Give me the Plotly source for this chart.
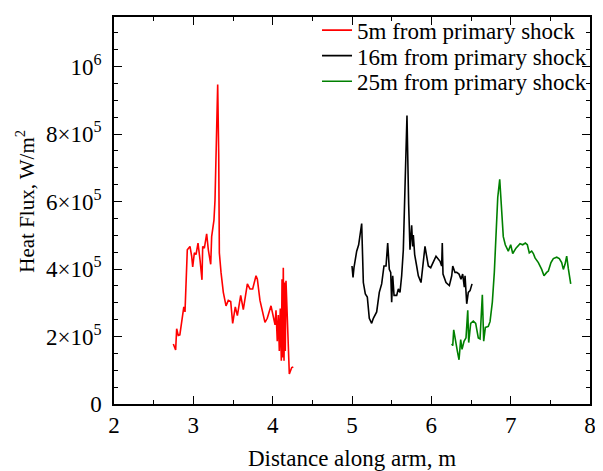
import plotly.graph_objects as go

# 5m from primary shock (red)
x_5m = [2.748, 2.777, 2.79, 2.81, 2.83, 2.857, 2.88, 2.895, 2.924, 2.958, 2.979, 2.992, 3.013, 3.034,
        3.059, 3.084, 3.097, 3.109, 3.118, 3.139, 3.168, 3.189, 3.219, 3.231, 3.26, 3.273, 3.294, 3.307,
        3.32, 3.328, 3.349, 3.378, 3.412, 3.441, 3.471, 3.496, 3.529, 3.555, 3.597, 3.63, 3.681, 3.714,
        3.748, 3.79, 3.807, 3.84, 3.903, 3.932, 3.979, 4.008, 4.03, 4.042, 4.058, 4.071, 4.084, 4.096,
        4.109, 4.118, 4.126, 4.134, 4.143, 4.151, 4.159, 4.168, 4.21, 4.24, 4.26]
y_5m = [1.78e5, 1.60e5, 2.23e5, 2.03e5, 2.05e5, 2.52e5, 2.88e5, 2.73e5, 4.57e5, 4.67e5, 4.38e5, 4.06e5,
        4.48e5, 4.43e5, 4.77e5, 4.28e5, 4.04e5, 3.68e5, 4.67e5, 4.62e5, 5.04e5, 4.57e5, 4.14e5, 4.96e5,
        5.45e5, 6.03e5, 8.16e5, 9.47e5, 7.38e5, 4.48e5, 3.90e5, 3.31e5, 2.91e5, 3.07e5, 3.04e5, 2.39e5,
        2.88e5, 2.62e5, 3.22e5, 2.80e5, 3.56e5, 3.41e5, 3.41e5, 3.80e5, 3.70e5, 3.07e5, 2.42e5, 2.54e5,
        2.91e5, 2.64e5, 2.35e5, 2.78e5, 1.86e5, 2.64e5, 1.57e5, 2.83e5, 1.28e5, 3.70e5, 1.38e5, 4.04e5,
        1.28e5, 3.60e5, 1.57e5, 3.65e5, 0.89e5, 1.08e5, 1.10e5]

# 16m from primary shock (black)
x_16m = [5.0, 5.013, 5.025, 5.059, 5.084, 5.122, 5.143, 5.168, 5.193, 5.218, 5.248, 5.269, 5.311, 5.344,
         5.374, 5.403, 5.429, 5.45, 5.47, 5.488, 5.5, 5.513, 5.53, 5.563, 5.584, 5.605, 5.626, 5.647,
         5.668, 5.693, 5.714, 5.731, 5.752, 5.765, 5.773, 5.79, 5.815, 5.836, 5.87, 5.899, 5.92, 5.941,
         5.962, 5.992, 6.025, 6.059, 6.11, 6.13, 6.138, 6.147, 6.185, 6.227, 6.257, 6.27, 6.298, 6.32,
         6.349, 6.374, 6.395, 6.416, 6.425, 6.446, 6.466, 6.488, 6.513]
y_16m = [4.09e5, 3.75e5, 4.04e5, 4.53e5, 4.72e5, 5.35e5, 3.60e5, 3.26e5, 3.17e5, 2.54e5, 2.39e5, 2.54e5,
         2.73e5, 3.31e5, 3.56e5, 4.09e5, 4.09e5, 4.77e5, 3.99e5, 3.90e5, 3.02e5, 3.80e5, 3.22e5, 3.22e5,
         3.41e5, 3.31e5, 3.80e5, 4.57e5, 6.41e5, 8.55e5, 5.93e5, 4.57e5, 5.30e5, 4.67e5, 5.01e5, 4.43e5,
         4.09e5, 3.80e5, 3.60e5, 4.19e5, 4.67e5, 4.38e5, 4.09e5, 4.04e5, 4.23e5, 4.38e5, 4.23e5, 4.09e5,
         4.77e5, 3.85e5, 3.60e5, 3.51e5, 3.80e5, 4.09e5, 3.90e5, 3.90e5, 3.85e5, 3.70e5, 3.85e5, 3.46e5,
         3.80e5, 2.97e5, 3.31e5, 3.36e5, 3.56e5]

# 25m from primary shock (green)
x_25m = [6.257, 6.27, 6.282, 6.303, 6.328, 6.349, 6.37, 6.387, 6.412, 6.437, 6.459, 6.471, 6.496, 6.529,
         6.559, 6.592, 6.614, 6.643, 6.66, 6.681, 6.718, 6.74, 6.769, 6.794, 6.815, 6.837, 6.862, 6.882,
         6.907, 6.932, 6.97, 7.0, 7.026, 7.067, 7.118, 7.152, 7.185, 7.21, 7.235, 7.265, 7.286, 7.307,
         7.349, 7.391, 7.42, 7.454, 7.475, 7.508, 7.538, 7.58, 7.613, 7.643, 7.664, 7.685, 7.706, 7.727,
         7.757]
y_25m = [1.78e5, 1.73e5, 2.20e5, 1.96e5, 1.57e5, 1.31e5, 1.91e5, 1.62e5, 1.86e5, 1.96e5, 2.78e5, 1.82e5,
         2.39e5, 2.46e5, 2.39e5, 1.96e5, 1.93e5, 3.24e5, 1.86e5, 2.27e5, 2.30e5, 2.44e5, 3.02e5, 3.90e5,
         5.06e5, 6.12e5, 6.66e5, 6.03e5, 4.96e5, 4.72e5, 4.53e5, 4.72e5, 4.46e5, 4.62e5, 4.75e5, 4.72e5,
         4.77e5, 4.72e5, 4.48e5, 4.53e5, 4.46e5, 4.33e5, 4.19e5, 3.99e5, 3.80e5, 3.90e5, 3.94e5, 4.19e5,
         4.31e5, 4.35e5, 4.31e5, 4.19e5, 3.99e5, 4.14e5, 4.38e5, 4.01e5, 3.56e5]

series_names = ["5m from primary shock", "16m from primary shock", "25m from primary shock"]
series_colors = ["#ff0000", "#000000", "#008000"]

y_tick_vals = [0, 2e5, 4e5, 6e5, 8e5, 1e6]
y_tick_text = ["0", "2×10<sup>5</sup>", "4×10<sup>5</sup>", "6×10<sup>5</sup>",
               "8×10<sup>5</sup>", "10<sup>6</sup>"]
x_tick_vals = [2, 3, 4, 5, 6, 7, 8]

FONT = "Liberation Serif, Times New Roman, serif"
FS = 23

fig = go.Figure()
legend_ids = ["legend", "legend2", "legend3"]
legend_y = [0.966, 0.900, 0.834]
for xs, ys, name, col, lg in zip([x_5m, x_16m, x_25m], [y_5m, y_16m, y_25m], series_names, series_colors, legend_ids):
    fig.add_trace(go.Scatter(x=xs, y=ys, mode="lines", name=name, legend=lg,
                             line=dict(color=col, width=1.6)))

axis_common = dict(
    showline=True, linecolor="black", linewidth=1.5, mirror="allticks",
    ticks="inside", ticklen=8, tickwidth=1.2, tickcolor="black",
    showgrid=False, zeroline=False,
    tickfont=dict(family=FONT, size=FS, color="black"),
)

fig.update_xaxes(range=[2, 8], tickvals=x_tick_vals,
                 minor=dict(dtick=0.5, ticks="inside", ticklen=4, tickcolor="black", tickwidth=1.2, showgrid=False),
                 title=dict(text="Distance along arm, m", font=dict(family=FONT, size=FS, color="black"), standoff=15),
                 **axis_common)
fig.update_yaxes(range=[0, 1.147e6], tickvals=y_tick_vals, ticktext=y_tick_text,
                 ticklabelstandoff=6,
                 minor=dict(dtick=5e4, tick0=0, ticks="inside", ticklen=4, tickcolor="black", tickwidth=1.2, showgrid=False),
                 **axis_common)

fig.add_annotation(text="Heat Flux, W/m<sup>2</sup>", textangle=-90, showarrow=False,
                   xref="paper", yref="paper", x=-0.185, y=0.525, xanchor="center", yanchor="middle",
                   font=dict(family=FONT, size=21, color="black"))

leg_common = dict(x=0.4265, xanchor="left", yanchor="middle", bgcolor="rgba(0,0,0,0)",
                  font=dict(family=FONT, size=FS, color="black"), itemwidth=30)

fig.update_layout(
    width=595, height=463,
    margin=dict(l=106, r=13, t=1, b=67),
    paper_bgcolor="white", plot_bgcolor="white",
    font=dict(family=FONT, size=FS, color="black"),
    legend=dict(y=legend_y[0], **leg_common),
    legend2=dict(y=legend_y[1], **leg_common),
    legend3=dict(y=legend_y[2], **leg_common),
    showlegend=True,
)

fig.write_html("out.html")
